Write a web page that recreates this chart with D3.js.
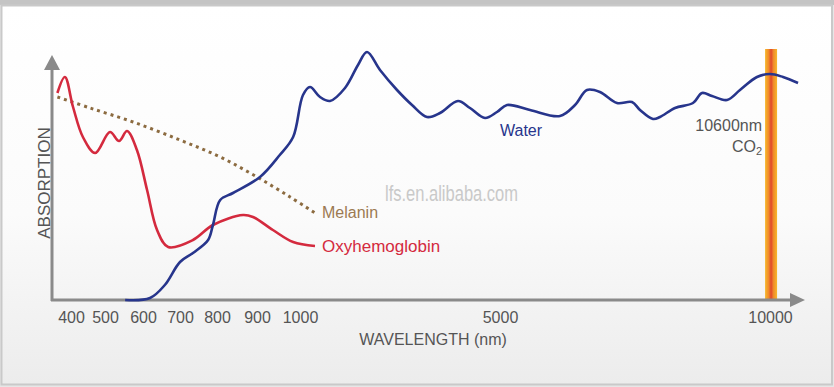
<!DOCTYPE html>
<html>
<head>
<meta charset="utf-8">
<script src="https://cdn.jsdelivr.net/npm/d3@7"></script>
<style>
  body { margin: 0; background: #e6e6e6; }
  svg { display: block; }
</style>
</head>
<body>
<div id="chart"></div>
<script>
// tick labels of the (non linear) wavelength axis, and where they sit
const tickWavelengths = [400, 500, 600, 700, 800, 900, 1000, 5000, 10000];
const tickPixels = [71, 105, 143, 180, 217, 257, 300, 500, 770];

// absorption curves, [wavelength nm, absorption (arbitrary)]
const oxyhemoglobin = [
  [360, 207], [382, 223], [406, 193], [435, 163], [471, 147], [513, 168],
  [537, 159], [558, 169], [584, 150], [611, 110], [638, 70], [668, 53],
  [735, 60], [789, 75], [865, 85], [890, 83], [937, 70], [984, 58], [1300, 54]
];
const melanin = [
  [360, 203], [456, 192], [574, 178], [700, 160], [808, 143], [900, 123],
  [977, 103], [1300, 87]
];
const water = [
  [553, 0], [619, 2], [659, 15], [700, 38], [735, 47], [776, 60], [789, 75],
  [808, 100], [840, 107], [907, 123], [953, 145], [984, 163], [1060, 205],
  [1200, 213], [1400, 203], [1600, 199], [1900, 212], [2160, 235], [2340, 248],
  [2600, 230], [2940, 210], [3240, 195], [3540, 183], [3800, 187], [4160, 199],
  [4400, 192], [4700, 182], [4940, 188], [5130, 195], [5556, 190], [6111, 184],
  [6389, 195], [6611, 210], [6852, 208], [7167, 197], [7444, 198], [7593, 190],
  [7833, 181], [7963, 183], [8241, 192], [8574, 197], [8741, 207], [8926, 204],
  [9204, 200], [9444, 210], [9759, 223], [10000, 226], [10241, 223], [10519, 217]
];
const co2Band = 10020;

const width = 834, height = 387;

const svg = d3.select("#chart")
  .append("svg")
  .attr("width", width)
  .attr("height", height);

const defs = svg.append("defs");
const grad = defs.append("linearGradient")
  .attr("id", "bg").attr("x1", 0).attr("y1", 0).attr("x2", 0).attr("y2", 1);
grad.append("stop").attr("offset", "0%").attr("stop-color", "#ffffff");
grad.append("stop").attr("offset", "55%").attr("stop-color", "#fbfbfb");
grad.append("stop").attr("offset", "100%").attr("stop-color", "#ececec");

const band = defs.append("linearGradient")
  .attr("id", "band").attr("x1", 0).attr("y1", 0).attr("x2", 1).attr("y2", 0);
band.append("stop").attr("offset", "0%").attr("stop-color", "#f6b82c");
band.append("stop").attr("offset", "30%").attr("stop-color", "#f08a2a");
band.append("stop").attr("offset", "50%").attr("stop-color", "#e0472a");
band.append("stop").attr("offset", "70%").attr("stop-color", "#f08a2a");
band.append("stop").attr("offset", "100%").attr("stop-color", "#f6b82c");

// top strip and frame
svg.append("rect")
  .attr("x", 0).attr("y", 0).attr("width", width).attr("height", 5)
  .style("fill", "#c4c4c4");
svg.append("rect")
  .attr("x", 1.5).attr("y", 5.5).attr("width", width - 3.5).attr("height", 379)
  .style("fill", "url(#bg)")
  .style("stroke", "#c9c9c9")
  .style("stroke-width", 2);

// scales
const x = d3.scaleLinear()
  .domain(tickWavelengths)
  .range(tickPixels);
const y = d3.scaleLinear()
  .domain([0, 250])
  .range([300, 50]);

// CO2 laser band
svg.append("rect")
  .attr("x", x(co2Band) - 6)
  .attr("y", 49)
  .attr("width", 12)
  .attr("height", 300 - 49)
  .style("fill", "url(#band)");

// axes with arrows
const axisColor = "#8a8a8a";
svg.append("line")
  .attr("x1", 52).attr("y1", 301).attr("x2", 52).attr("y2", 68)
  .style("stroke", axisColor).style("stroke-width", 3);
svg.append("path")
  .attr("d", "M44,70 L52,55 L60,70 Z")
  .style("fill", axisColor);
svg.append("line")
  .attr("x1", 51).attr("y1", 300).attr("x2", 792).attr("y2", 300)
  .style("stroke", axisColor).style("stroke-width", 3);
svg.append("path")
  .attr("d", "M790,293 L805,300 L790,307 Z")
  .style("fill", axisColor);

const font = "'Liberation Sans Narrow', 'Liberation Sans', Arial, sans-serif";

const xAxis = svg.append("g")
  .attr("transform", "translate(0,309)")
  .call(d3.axisBottom(x).tickValues(tickWavelengths).tickSize(0).tickFormat(d3.format("d")));
xAxis.select(".domain").remove();
xAxis.selectAll(".tick text")
  .attr("fill", "#555")
  .style("font-family", font)
  .style("font-size", "16px");

svg.append("text")
  .attr("x", 433).attr("y", 345)
  .attr("text-anchor", "middle")
  .style("font-family", font)
  .style("font-size", "16px")
  .style("fill", "#555")
  .text("WAVELENGTH (nm)");

svg.append("text")
  .attr("transform", "translate(50,183) rotate(-90)")
  .attr("text-anchor", "middle")
  .style("font-family", font)
  .style("font-size", "17px")
  .style("fill", "#555")
  .text("ABSORPTION");

// watermark
svg.append("text")
  .attr("x", 385).attr("y", 201)
  .attr("textLength", 133)
  .attr("lengthAdjust", "spacingAndGlyphs")
  .style("font-family", "'Liberation Sans', sans-serif")
  .style("font-size", "22px")
  .style("fill", "#c9c9c9")
  .text("lfs.en.alibaba.com");

// curves
const line = d3.line()
  .x(d => x(d[0]))
  .y(d => y(d[1]))
  .curve(d3.curveCatmullRom.alpha(0.5));

svg.append("path")
  .datum(melanin)
  .attr("fill", "none")
  .attr("stroke", "#8c6b40")
  .attr("stroke-width", 3)
  .attr("stroke-dasharray", "3 4")
  .attr("d", line);

svg.append("path")
  .datum(oxyhemoglobin)
  .attr("fill", "none")
  .attr("stroke", "#d42a3e")
  .attr("stroke-width", 2.6)
  .attr("d", line);

svg.append("path")
  .datum(water)
  .attr("fill", "none")
  .attr("stroke", "#27358c")
  .attr("stroke-width", 2.6)
  .attr("d", line);

// series labels
svg.append("text")
  .attr("x", 500).attr("y", 136)
  .style("font-family", font).style("font-size", "16px")
  .style("fill", "#27358c")
  .text("Water");
svg.append("text")
  .attr("x", 322).attr("y", 218)
  .style("font-family", font).style("font-size", "16px")
  .style("fill", "#9c7a52")
  .text("Melanin");
svg.append("text")
  .attr("x", 322).attr("y", 252)
  .style("font-family", font).style("font-size", "17px")
  .style("fill", "#d42a3e")
  .text("Oxyhemoglobin");

svg.append("text")
  .attr("x", 762).attr("y", 131)
  .attr("text-anchor", "end")
  .style("font-family", font).style("font-size", "16px")
  .style("fill", "#555")
  .text("10600nm");
const co2 = svg.append("text")
  .attr("x", 762).attr("y", 152)
  .attr("text-anchor", "end")
  .style("font-family", font).style("font-size", "16px")
  .style("fill", "#555");
co2.append("tspan").text("CO");
co2.append("tspan").attr("dy", 3).style("font-size", "11px").text("2");
</script>
</body>
</html>
